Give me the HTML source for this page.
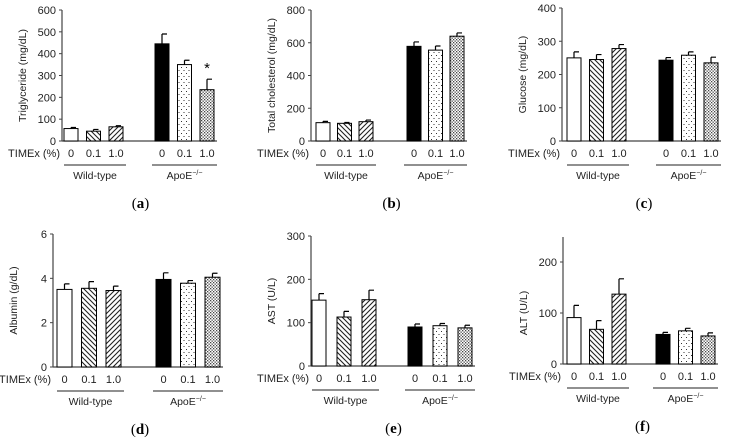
<!DOCTYPE html>
<html><head><meta charset="utf-8"><style>
body{margin:0;background:#fff;width:731px;height:442px;overflow:hidden}
svg{display:block;font-family:"Liberation Sans",sans-serif}
</style></head><body>
<svg id="fig" width="731" height="442" viewBox="0 0 731 442">
<defs>
<pattern id="back" width="5" height="5" patternUnits="userSpaceOnUse"><rect width="5" height="5" fill="#fff"/><path d="M-1,-1L6,6M-1,4L1,6M4,-1L6,1" stroke="#222" stroke-width="1.1"/></pattern>
<pattern id="fwd" width="5" height="5" patternUnits="userSpaceOnUse"><rect width="5" height="5" fill="#fff"/><path d="M-1,6L6,-1M-1,1L1,-1M4,6L6,4" stroke="#222" stroke-width="1.1"/></pattern>
<pattern id="sparse" width="5" height="6" patternUnits="userSpaceOnUse"><rect width="5" height="6" fill="#fff"/><rect x="1" y="1" width="1" height="1" fill="#333"/><rect x="3.5" y="4" width="1" height="1" fill="#333"/></pattern>
<pattern id="dense" width="3" height="3" patternUnits="userSpaceOnUse"><rect width="3" height="3" fill="#fff"/><rect x="0" y="0" width="1.3" height="1.3" fill="#444"/><rect x="1.5" y="1.5" width="1.3" height="1.3" fill="#444"/></pattern>
</defs>
</svg>
<script>
const groups = ["Wild-type", "ApoE"];
const doses = ["0", "0.1", "1.0"];
const aMeans = [57, 45, 65, 445, 350, 235];
const aErr = [5, 8, 5, 45, 20, 48];
const aTicks = [0, 100, 200, 300, 400, 500, 600];
const bMeans = [112, 108, 118, 578, 555, 640];
const bErr = [8, 5, 10, 27, 25, 20];
const bTicks = [0, 200, 400, 600, 800];
const cMeans = [250, 245, 278, 243, 258, 235];
const cErr = [18, 15, 12, 8, 10, 17];
const cTicks = [0, 100, 200, 300, 400];
const dMeans = [3.5, 3.55, 3.45, 3.95, 3.78, 4.05];
const dErr = [0.25, 0.3, 0.2, 0.3, 0.12, 0.18];
const dTicks = [0, 2, 4, 6];
const eMeans = [152, 113, 153, 90, 93, 88];
const eErr = [15, 13, 22, 7, 5, 6];
const eTicks = [0, 100, 200, 300];
const fMeans = [91, 68, 137, 58, 65, 55];
const fErr = [24, 17, 30, 4, 5, 6];
const fTicks = [0, 100, 200];

const fills = ["#fff", "url(#back)", "url(#fwd)", "#000", "url(#sparse)", "url(#dense)"];
const svg = document.getElementById('fig');
const NS = "http://www.w3.org/2000/svg";
function mk(tag, attrs, parent, txt) {
  const e = document.createElementNS(NS, tag);
  for (const k in attrs) e.setAttribute(k, attrs[k]);
  if (txt !== undefined) e.textContent = txt;
  (parent || svg).appendChild(e);
  return e;
}

function panel(p) {
  const g = mk('g', {});
  
  
  const y = v => p.bot - (v / p.max) * (p.bot - p.top);
  const barX = i => p.ax + (i < 3 ? p.o1 + i * p.sp : p.o2 + (i - 3) * p.sp);
  const lastEnd = barX(5) + p.bw + 3;
  const ya = mk('line', {x1: p.ax, y1: p.axTop ?? p.top, x2: p.ax, y2: p.bot, stroke: '#444', 'stroke-width': 1.2}, g);
  
  
  const xa = mk('line', {x1: p.ax, y1: p.bot, x2: lastEnd, y2: p.bot, stroke: '#444', 'stroke-width': 1.2}, g);
  
  
  p.ticks.forEach(t => {
    mk('line', {x1: p.ax - 3, y1: y(t), x2: p.ax, y2: y(t), stroke: '#444'}, g);
    const tl = mk('text', {x: p.ax - 6, y: y(t) + 4, 'text-anchor': 'end', 'font-size': 11, fill: '#222'}, g, String(t));
    
    
  });
  const yt = mk('text', {transform: `translate(${p.ax - 36},${(p.top + p.bot) / 2}) rotate(-90)`, 'text-anchor': 'middle', 'font-size': 10.5, fill: '#222'}, g, p.ylab);
  
  
  p.means.forEach((m, i) => {
    const x = barX(i);
    const r = mk('rect', {x: x, y: y(m), width: p.bw, height: p.bot - y(m), fill: fills[i], stroke: '#000', 'stroke-width': 1}, g);
    
    
    const cx = x + p.bw / 2, et = y(m + p.err[i]);
    const eb = mk('path', {d: `M${cx},${y(m)}V${et}M${cx},${et}H${cx + 5}`, stroke: '#000', 'stroke-width': 1.2, fill: 'none'}, g);
    
    
    const dl = mk('text', {x: cx, y: p.bot + 16, 'text-anchor': 'middle', 'font-size': 11, fill: '#222'}, g, doses[i % 3]);
    
    
  });
  if (p.star) {
    const cx = barX(p.star) + p.bw / 2;
    const st = mk('text', {x: cx, y: y(p.means[p.star] + p.err[p.star]) - 6, 'text-anchor': 'middle', 'font-size': 15, fill: '#000'}, g, '*');
    
    
  }
  const tx = mk('text', {x: p.ax - 2, y: p.bot + 16, 'text-anchor': 'end', 'font-size': 11, fill: '#222'}, g, 'TIMEx (%)');
  
  
  [[barX(0), barX(2) + p.bw + 3], [barX(3) - 3, lastEnd]].forEach((s, k) => {
    mk('line', {x1: s[0], y1: p.bot + 24, x2: s[1], y2: p.bot + 24, stroke: '#222'}, g);
    const gl = mk('text', {x: (s[0] + s[1]) / 2, y: p.bot + 38, 'text-anchor': 'middle', 'font-size': 10.5, fill: '#222'}, g, k === 0 ? groups[0] : 'ApoE');
    if (k === 1) mk('tspan', {'font-size': 7, dy: -4}, gl, '−/−');
    
    
  });
  const pl = mk('text', {x: (barX(0) + lastEnd) / 2, y: p.bot + 67, 'text-anchor': 'middle', 'font-size': 15, 'font-family': 'Liberation Serif, serif', fill: '#000'}, g, '(');
  mk('tspan', {'font-weight': 'bold'}, pl, p.id);
  mk('tspan', {}, pl, ')');
  
  
}

panel({id: 'a', ax: 62, top: 10, bot: 141, max: 600, ticks: aTicks, means: aMeans, err: aErr, o1: 2, o2: 93, sp: 22.5, bw: 14, ylab: 'Triglyceride (mg/dL)', star: 5});
panel({id: 'b', ax: 311, top: 10, bot: 141, max: 800, ticks: bTicks, means: bMeans, err: bErr, o1: 5, o2: 96, sp: 21.5, bw: 14, ylab: 'Total cholesterol  (mg/dL)'});
panel({id: 'c', ax: 562, top: 8, bot: 141, max: 400, ticks: cTicks, means: cMeans, err: cErr, o1: 5, o2: 97, sp: 22.5, bw: 14, ylab: 'Glucose (mg/dL)'});
panel({id: 'd', ax: 53, top: 234, bot: 367, max: 6, ticks: dTicks, means: dMeans, err: dErr, o1: 4, o2: 103, sp: 24.5, bw: 15, ylab: 'Albumin (g/dL)'});
panel({id: 'e', ax: 311, top: 236, bot: 366, max: 300, ticks: eTicks, means: eMeans, err: eErr, o1: 1, o2: 97, sp: 25, bw: 14, ylab: 'AST (U/L)'});
panel({id: 'f', ax: 563, top: 262, bot: 364, max: 200, axTop: 237, ticks: fTicks, means: fMeans, err: fErr, o1: 4, o2: 93, sp: 22.5, bw: 14, ylab: 'ALT (U/L)'});
</script>
</body></html>
